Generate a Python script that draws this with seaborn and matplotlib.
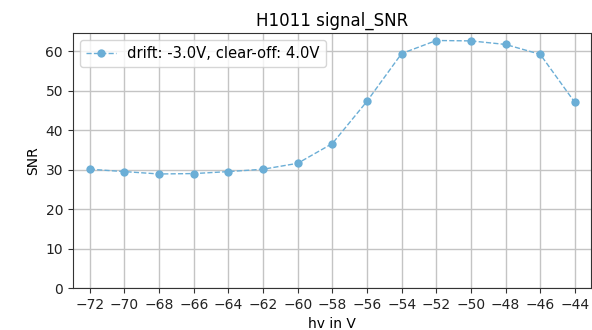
import matplotlib
matplotlib.use("Agg")
import matplotlib.pyplot as plt
import seaborn as sns
import pandas as pd

hv = [-72, -70, -68, -66, -64, -62, -60, -58, -56, -54, -52, -50, -48, -46, -44]
snr = [30.1, 29.5, 28.9, 29.0, 29.5, 30.1, 31.6, 36.6, 47.3, 59.4, 62.7, 62.6, 61.7, 59.2, 47.0]
label = "drift: -3.0V, clear-off: 4.0V"
xticks = list(range(-72, -43, 2))
yticks = [0, 10, 20, 30, 40, 50, 60]

df = pd.DataFrame({"hv": hv, "SNR": snr})

fig = plt.figure(figsize=(5.92, 3.30), dpi=100)
ax = fig.add_axes([0.123, 0.127, 0.875, 0.773])
sns.lineplot(data=df, x="hv", y="SNR", ax=ax, color="#6baed6", linestyle="--",
             linewidth=1.0, marker="o", markersize=6, markeredgewidth=0,
             label=label)
ax.set_title("H1011 signal_SNR", fontsize=12, pad=5)
ax.set_xlabel("hv in V", fontsize=10)
ax.set_ylabel("SNR", fontsize=10)
ax.set_xticks(xticks)
ax.set_yticks(yticks)
ax.set_xlim(-72.98, -43.08)
ax.set_ylim(0, 64.6)
ax.grid(True, color="#c4c4c4", linewidth=1.0)
ax.set_axisbelow(True)
for s in ax.spines.values():
    s.set_color("#333333")
ax.tick_params(colors="#333333", labelcolor="#222222")
ax.legend(loc="upper left", fontsize=10.6, framealpha=0.8)
fig.savefig("out.png", dpi=100)
